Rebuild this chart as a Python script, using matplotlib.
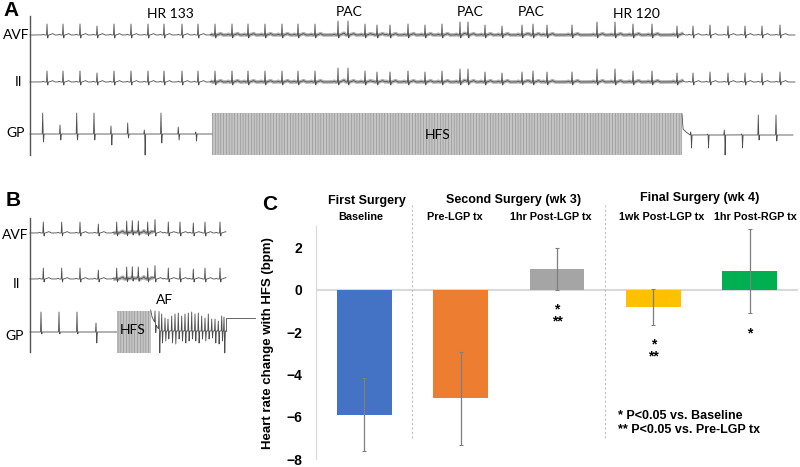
import numpy as np
import matplotlib
matplotlib.use("Agg")
import matplotlib.pyplot as plt
from matplotlib.patches import Rectangle

plt.rcParams['font.family'] = ['Liberation Sans', 'DejaVu Sans']
plt.rcParams['hatch.linewidth'] = 0.4

# === Panel C data ===
conditions = ["Baseline", "Pre-LGP tx", "1hr Post-LGP tx", "1wk Post-LGP tx", "1hr Post-RGP tx"]
hr_change = [-5.9, -5.12, 1.0, -0.8, 0.89]
hr_err = [1.73, 2.2, 1.0, 0.85, 2.0]
bar_colors = ["#4472C4", "#ED7D31", "#A5A5A5", "#FFC000", "#00B050"]
surgeries = ["First Surgery", "Second Surgery (wk 3)", "Final Surgery (wk 4)"]
sig_baseline = ["", "", "*", "*", "*"]
sig_prelgp = ["", "", "**", "**", ""]
legend_lines = ["* P<0.05 vs. Baseline", "** P<0.05 vs. Pre-LGP tx"]

# === ECG traces (beat times in px of the trace window, spike heights in px) ===
ecg_a_beats = [47, 63, 80, 97, 114, 131, 148, 164, 182, 198, 215, 232, 248, 265, 282,
               298, 315, 338, 348, 365, 377, 390, 408, 425, 442, 460, 468, 485, 502,
               522, 533, 547, 572, 597, 615, 633, 652, 677, 693, 710, 728, 745, 762, 780]
ecg_a_up = [11, 11, 11, 9, 11, 11, 11, 11, 11, 11, 11, 11, 11, 11, 11,
            11, 11, 14, 14, 11, 10, 10, 11, 10, 11, 13, 13, 10, 9,
            10, 11, 10, 10, 13, 13, 11, 11, 9, 9, 10, 9, 9, 9, 10]
ecg_a_down = [3] * len(ecg_a_beats)
ecg_a_noise = (212, 682)

gp_a_beats = [42.7, 60, 76.7, 94, 111, 127.7, 144.3, 161, 178.3, 195.7,
              690.7, 707.7, 724.3, 741.7, 758.3, 776]
gp_a_up = [21, 9, 21, 21, 8, 11, 4, 21, 7, 2, 3, 1, 5, 1, 20, 20]
gp_a_down = [8, 6, 6, 6, 11, 4, 21, 9, 6, 7, 13, 13, 20, 13, 5, 6]
hfs_a = (212, 682)
gp_a_artifact_x = [682, 683, 686, 690]
gp_a_artifact_y = [-21, -6, -3, 0]

ecg_b_beats = [43.3, 61.7, 80, 98.3, 116.7, 126.7, 132.3, 138.3, 147.7, 155, 168.3,
               180, 193.3, 205, 220]
ecg_b_up = [11, 11, 11, 9, 11, 12, 11, 11, 11, 13, 11, 11, 10, 11, 11]
ecg_b_down = [3] * len(ecg_b_beats)
ecg_b_noise = (115, 152)

gp_b_beats = [41, 59, 77, 96]
gp_b_up = [20, 20, 20, 9]
gp_b_down = [2, 2, 2, 11]
hfs_b = (116.7, 150.7)
af_beats = [155, 159, 161.7, 165, 168, 171.7, 175, 178.3, 181.7, 185, 188.3, 191.7,
            195, 198.3, 201.7, 205, 208.3, 211.7, 215, 218.3, 221.7, 224]
af_up = [12, 18, 17, 13, 12, 15, 17, 18, 15, 17, 18, 19, 17, 18, 15, 13, 17, 12, 12, 10, 15, 14]
af_down = [8, 22, 12, 10, 8, 12, 13, 8, 10, 12, 10, 8, 10, 12, 8, 10, 8, 7, 12, 13, 10, 22]
gp_b_artifact_x = [150.7, 152, 156, 160]
gp_b_artifact_y = [-21, -14, -6, 0]


def trace(x0, x1, base, beats, up, down, pt=True, step=0.05):
    x = np.arange(x0, x1, step)
    y = np.full_like(x, base, dtype=float)
    for b, u, d in zip(beats, up, down):
        rel = x - b
        y -= u * np.interp(rel, [-0.5, 0, 0.4], [0, 1, 0], left=0, right=0)
        y += d * np.interp(rel, [0.4, 0.8, 1.3], [0, 1, 0], left=0, right=0)
        if pt:
            y -= np.interp(rel, [-5, -3.8, -2.5, 2, 3.5, 5.5, 8],
                           [0, 0.8, 0, 0, 0.6, 1.4, 0], left=0, right=0)
    return x, y


fig = plt.figure(figsize=(8, 4.67), dpi=100)
ax = fig.add_axes([0, 0, 1, 1])
ax.set_xlim(0, 800)
ax.set_ylim(467, 0)
ax.axis('off')

line_kw = dict(color='#4d4d4d', lw=0.6, zorder=3)
noise_kw = dict(color='#b3b3b3', lw=2.6, zorder=2)
lab_kw = dict(family=['Lato', 'DejaVu Sans'], fontsize=10, ha='center', va='center')

# ---- Panel A ----
for base in (35, 82):
    nb = [b for b in ecg_a_beats if ecg_a_noise[0] - 8 < b < ecg_a_noise[1] + 5]
    xn, yn = trace(ecg_a_noise[0], ecg_a_noise[1], base, nb, [0] * len(nb), [0] * len(nb))
    ax.plot(xn, yn, **noise_kw)
    x, y = trace(30, 795, base, ecg_a_beats, ecg_a_up, ecg_a_down)
    ax.plot(x, y, **line_kw)

x, y = trace(30, 212, 134, gp_a_beats[:10], gp_a_up[:10], gp_a_down[:10], pt=False)
ax.plot(x, y, **line_kw)
x, y = trace(682, 793, 135, gp_a_beats[10:], gp_a_up[10:], gp_a_down[10:], pt=False)
y = y + np.interp(x, gp_a_artifact_x, gp_a_artifact_y)
ax.plot(x, y, **line_kw)
ax.add_patch(Rectangle((hfs_a[0], 113), hfs_a[1] - hfs_a[0], 42, facecolor='#c4c4c4',
                       edgecolor='#8c8c8c', hatch='||||||', lw=0, zorder=2))
ax.plot([30, 30], [16, 155], color='#555555', lw=1)

ax.text(11, 11, "A", fontsize=15, fontweight='bold', ha='center', va='center')
ax.text(16, 35, "AVF", **lab_kw)
ax.text(18, 82, "II", **lab_kw)
ax.text(16, 133, "GP", **lab_kw)
for tx, px, py in [("HR 133", 170, 14), ("PAC", 349, 12), ("PAC", 470, 12),
                   ("PAC", 531, 12), ("HR 120", 636, 14)]:
    ax.text(px, py, tx, **lab_kw)
ax.text(438, 135, "HFS", **lab_kw)

# ---- Panel B ----
for base in (233, 279):
    nb = [b for b in ecg_b_beats if ecg_b_noise[0] - 8 < b < ecg_b_noise[1] + 5]
    xn, yn = trace(ecg_b_noise[0], ecg_b_noise[1], base, nb, [0] * len(nb), [0] * len(nb))
    ax.plot(xn, yn, **noise_kw)
    x, y = trace(30, 226, base, ecg_b_beats, ecg_b_up, ecg_b_down)
    ax.plot(x, y, **line_kw)

x, y = trace(30, 116.7, 332, gp_b_beats, gp_b_up, gp_b_down, pt=False)
ax.plot(x, y, **line_kw)
x, y = trace(150.7, 226, 331, af_beats, af_up, af_down, pt=False)
y = y + np.interp(x, gp_b_artifact_x, gp_b_artifact_y)
ax.plot(x, y, **line_kw)
ax.plot([226, 226, 255], [331, 318, 318], **line_kw)
ax.add_patch(Rectangle((hfs_b[0], 311), hfs_b[1] - hfs_b[0], 41.7, facecolor='#c4c4c4',
                       edgecolor='#8c8c8c', hatch='||||||', lw=0, zorder=2))
ax.plot([30, 30], [218, 352], color='#555555', lw=1)

ax.text(13, 200, "B", fontsize=15, fontweight='bold', ha='center', va='center')
ax.text(15.5, 235, "AVF", **lab_kw)
ax.text(17, 284, "II", **lab_kw)
ax.text(15, 336, "GP", **lab_kw)
ax.text(133, 330, "HFS", zorder=5, **lab_kw)
ax.text(165, 300, "AF", **lab_kw)
ax.text(270, 204, "C", fontsize=15, fontweight='bold', ha='center', va='center')

# ---- Panel C ----
bx = fig.add_axes([0.395, 0.0171, 0.6025, 0.498])
xpos = np.arange(len(conditions))
bx.bar(xpos, hr_change, width=0.57, color=bar_colors, zorder=2)
bx.errorbar(xpos, hr_change, yerr=hr_err, fmt='none', ecolor='#7f7f7f', elinewidth=0.9,
            capsize=1.5, capthick=0.8, zorder=3)
bx.axhline(0, color='#d9d9d9', lw=1.5, zorder=1)
bx.set_xlim(-0.5, 4.5)
bx.set_ylim(-8, 3)
bx.set_yticks([2, 0, -2, -4, -6, -8])
bx.set_xticks([])
bx.tick_params(axis='y', length=0, pad=10, labelsize=10)
for t in bx.get_yticklabels():
    t.set_fontweight('bold')
for s in ['top', 'right', 'bottom']:
    bx.spines[s].set_visible(False)
bx.spines['left'].set_color('#d9d9d9')
bx.set_ylabel("Heart rate change with HFS (bpm)", fontsize=9.5, fontweight='bold')
bx.yaxis.set_label_coords(-0.087, 0.5)

for sx in (0.5, 2.5):
    bx.plot([sx, sx], [-7, 4], color='#bfbfbf', lw=0.8, ls=(0, (2, 2)), clip_on=False)

for name, hx, hy in zip(surgeries, [0.03, 1.55, 3.48], [4.22, 4.25, 4.35]):
    bx.text(hx, hy, name, fontsize=9, fontweight='bold', ha='center', va='center', clip_on=False)
for name, hx in zip(conditions, [-0.04, 0.94, 1.93, 3.09, 4.06]):
    bx.text(hx, 3.46, name, fontsize=7.8, fontweight='bold', ha='center', va='center', clip_on=False)

for i in range(len(conditions)):
    marks = "\n".join(m for m in (sig_baseline[i], sig_prelgp[i]) if m)
    if marks:
        low = hr_change[i] - hr_err[i]
        bx.text(xpos[i], low - 0.6, marks, fontsize=10, fontweight='bold', ha='center',
                va='top', multialignment='center', linespacing=0.85)

for k, txt in enumerate(legend_lines):
    bx.text(2.63, -5.95 - 0.66 * k, txt, fontsize=9, fontweight='bold', ha='left', va='center')

fig.savefig("out.png", dpi=100)
